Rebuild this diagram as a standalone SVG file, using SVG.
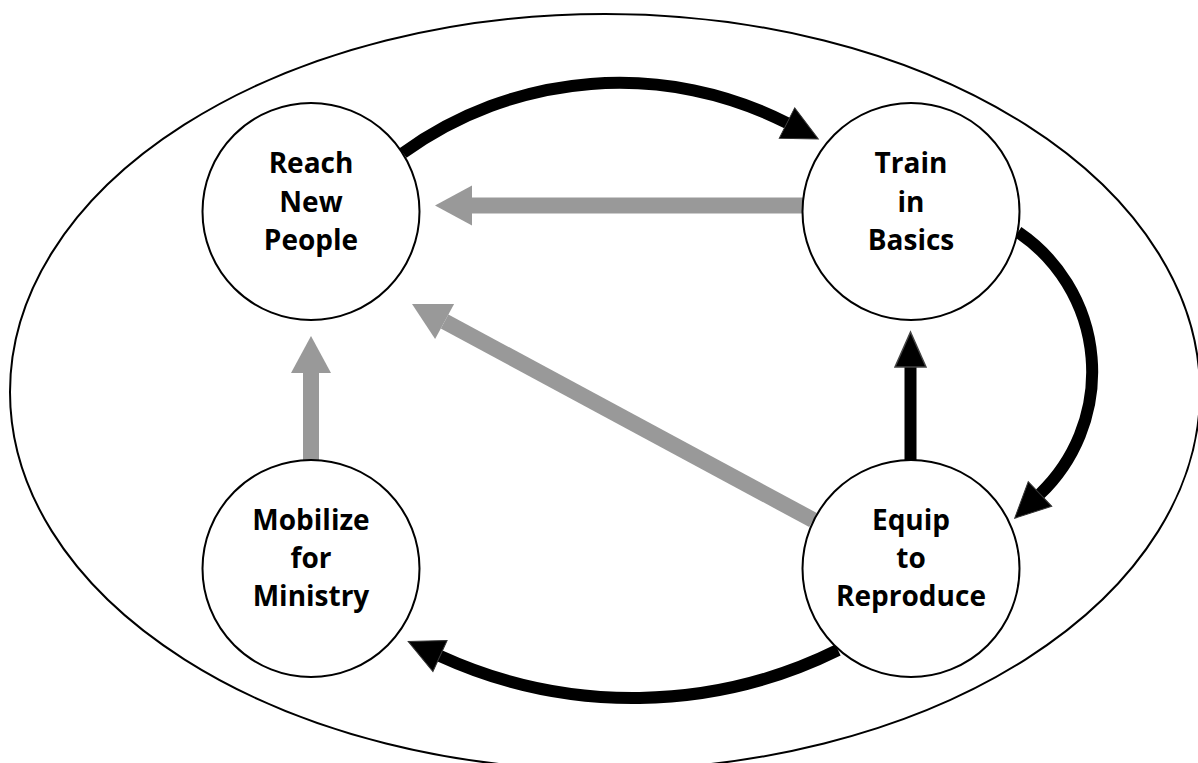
<svg xmlns="http://www.w3.org/2000/svg" width="1198" height="763" viewBox="0 0 1198 763">
<defs>
<style>
.node circle{fill:#fff;stroke:#000;stroke-width:2}
.node text{font-family:"Open Sans","Liberation Sans",sans-serif;font-weight:bold;font-size:28px;text-anchor:middle;fill:#000}
.blk{fill:none;stroke:#000;stroke-width:12}
.gry{fill:none;stroke:#999;stroke-width:16}
</style>
<marker id="hb" markerUnits="userSpaceOnUse" orient="auto" overflow="visible" markerWidth="1" markerHeight="1" refX="0" refY="0">
<path d="M35,0 L0,-17 L0,17 Z" fill="#000" stroke="#333" stroke-width="1"/>
</marker>
<marker id="hv" markerUnits="userSpaceOnUse" orient="auto" overflow="visible" markerWidth="1" markerHeight="1" refX="0" refY="0">
<path d="M35,0 L0,-15.5 L0,15.5 Z" fill="#000" stroke="#444" stroke-width="1.5"/>
</marker>
<marker id="hg" markerUnits="userSpaceOnUse" orient="auto" overflow="visible" markerWidth="1" markerHeight="1" refX="0" refY="0">
<path d="M37,0 L0,-20 L0,20 Z" fill="#999"/>
</marker>
</defs>
<rect width="1198" height="763" fill="#fff"/>
<ellipse id="outer" cx="605" cy="392" rx="595" ry="378" fill="none" stroke="#000" stroke-width="2"/>
<g id="connectors">
<path class="blk" d="M403,153 A369,369 0 0 1 787,123" marker-end="url(#hb)"/>
<path class="blk" d="M1018,232 A169,169 0 0 1 1040,494" marker-end="url(#hb)"/>
<path class="blk" d="M838,650 A463,463 0 0 1 440,656" marker-end="url(#hb)"/>
<line class="blk" x1="910.5" y1="461" x2="910.5" y2="367" stroke-width="11" marker-end="url(#hv)"/>
<line class="gry" x1="803" y1="205.5" x2="472" y2="205.5" stroke-width="15" marker-end="url(#hg)"/>
<line class="gry" x1="813" y1="520" x2="444.6" y2="321.5" marker-end="url(#hg)"/>
<line class="gry" x1="311" y1="460" x2="311" y2="373" marker-end="url(#hg)"/>
</g>
<g id="reach" class="node">
<circle cx="311" cy="211.5" r="108.5"/>
<text x="311" y="173">Reach</text>
<text x="311" y="211.5">New</text>
<text x="311" y="249.5">People</text>
</g>
<g id="train" class="node">
<circle cx="911" cy="211.5" r="108.5"/>
<text x="911" y="173">Train</text>
<text x="911" y="211.5">in</text>
<text x="911" y="249.5">Basics</text>
</g>
<g id="mobilize" class="node">
<circle cx="311" cy="568.5" r="108.5"/>
<text x="311" y="530">Mobilize</text>
<text x="311" y="568">for</text>
<text x="311" y="606">Ministry</text>
</g>
<g id="equip" class="node">
<circle cx="911" cy="568.5" r="108.5"/>
<text x="911" y="530">Equip</text>
<text x="911" y="568">to</text>
<text x="911" y="606">Reproduce</text>
</g>
</svg>
